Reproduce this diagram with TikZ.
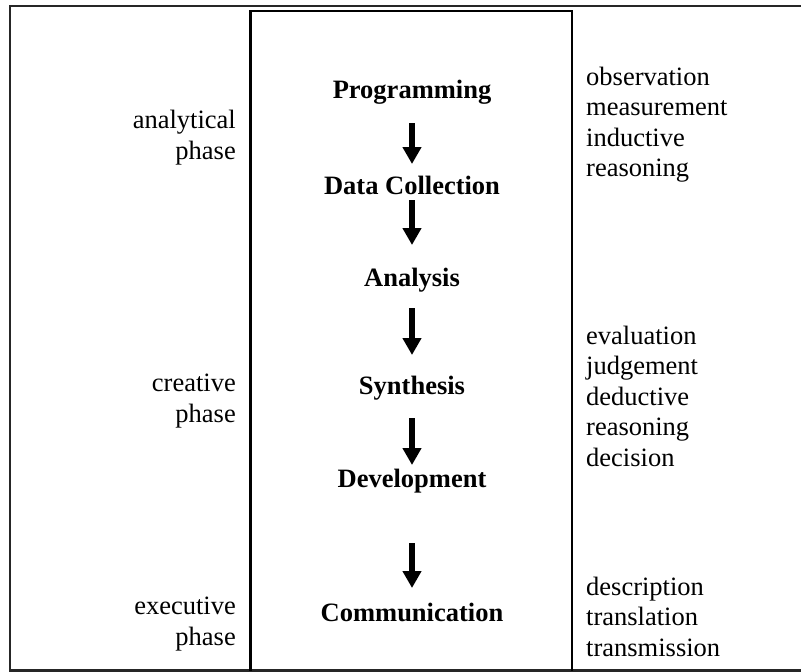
\documentclass[tikz,border=0pt]{standalone}
\usepackage{fontspec}
\setmainfont{Liberation Serif}
\usetikzlibrary{arrows.meta}
\begin{document}
\begin{tikzpicture}[x=1pt,y=-1pt,
  frame/.style={line width=2.4pt, black!85},
  boxline/.style={line width=2.2pt},
  stage/.style={font=\fontsize{26.5}{30.5}\selectfont\bfseries, anchor=base, inner sep=0pt},
  phase/.style={font=\fontsize{26.5}{30.5}\selectfont, align=right, anchor=base east, inner sep=0pt},
  skill/.style={font=\fontsize{26.5}{30.5}\selectfont, align=left, anchor=base west, inner sep=0pt},
  flow/.style={line width=6.5pt, -{Triangle[width=18pt,length=17pt]}}]
\useasboundingbox (0,0) rectangle (801,672);
% table frame
\draw[frame] (801,6) -- (10,6) -- (10,670.5) -- (801,670.5);
\draw[boxline] (250.5,670.5) -- (250.5,11) -- (572,11) -- (572,670.5);
% stages
\node[stage] (prog)  at (412,98)  {Programming};
\node[stage] (data)  at (412,194) {Data Collection};
\node[stage] (anal)  at (412,286) {Analysis};
\node[stage] (synth) at (412,394) {Synthesis};
\node[stage] (dev)   at (412,487) {Development};
\node[stage] (comm)  at (412,621) {Communication};
% arrows
\draw[flow] ([yshift=-25pt]prog.base)  -- ([yshift=30pt]data.base);
\draw[flow] ([yshift=-6pt]data.base)   -- ([yshift=41pt]anal.base);
\draw[flow] ([yshift=-22pt]anal.base)  -- ([yshift=39pt]synth.base);
\draw[flow] ([yshift=-24pt]synth.base) -- ([yshift=22pt]dev.base);
\draw[flow] ([yshift=-56pt]dev.base)   -- ([yshift=33pt]comm.base);
% phases (anchored at the baseline of the last line)
\node[phase] (ph1) at (236,159) {analytical\\phase};
\node[phase] (ph2) at (236,422) {creative\\phase};
\node[phase] (ph3) at (236,645) {executive\\phase};
% skills (anchored at the baseline of the last line)
\node[skill] (sk1) at (586,176.5) {observation\\measurement\\inductive\\reasoning};
\node[skill] (sk2) at (586,466)   {evaluation\\judgement\\deductive\\reasoning\\decision};
\node[skill] (sk3) at (586,656)   {description\\translation\\transmission};
\end{tikzpicture}
\end{document}
